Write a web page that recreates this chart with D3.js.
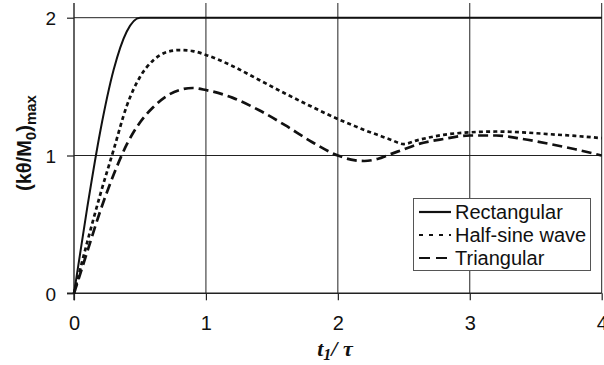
<!DOCTYPE html>
<html>
<head>
<meta charset="utf-8">
<script src="https://cdn.jsdelivr.net/npm/d3@7"></script>
<style>
  html, body { margin: 0; padding: 0; background: #fff; }
  svg { display: block; }
  text { font-family: Arial, "Liberation Sans", sans-serif; fill: #111; }
</style>
</head>
<body>
<svg id="chart" width="604" height="365"></svg>
<script>
// Dimensionless pulse duration t1/tau
const ratio = [0, 0.1, 0.2, 0.3, 0.4, 0.5, 0.6, 0.7, 0.8, 0.9, 1.0, 1.2, 1.4, 1.6, 1.8, 2.0,
               2.1, 2.2, 2.3, 2.4, 2.5, 2.6, 2.8, 3.0, 3.2, 3.4, 3.6, 3.8, 4.0];

// Peak response (k·theta/M0)max for each pulse shape
const rectangular = [0, 0.62, 1.18, 1.62, 1.90, 2.0, 2.0, 2.0, 2.0, 2.0, 2.0, 2.0, 2.0, 2.0, 2.0, 2.0,
                     2.0, 2.0, 2.0, 2.0, 2.0, 2.0, 2.0, 2.0, 2.0, 2.0, 2.0, 2.0, 2.0];
const halfSine    = [0, 0.37, 0.72, 1.04, 1.36, 1.57, 1.69, 1.75, 1.765, 1.758, 1.73, 1.65, 1.55, 1.45, 1.355, 1.265,
                     1.225, 1.185, 1.15, 1.115, 1.083, 1.11, 1.15, 1.168, 1.174, 1.168, 1.155, 1.142, 1.126];
const triangular  = [0, 0.30, 0.60, 0.86, 1.08, 1.24, 1.35, 1.43, 1.475, 1.49, 1.475, 1.42, 1.33, 1.22, 1.10, 1.0,
                     0.97, 0.96, 0.975, 1.01, 1.045, 1.08, 1.12, 1.145, 1.145, 1.12, 1.085, 1.045, 1.0];

const xTicks = [0, 1, 2, 3, 4];
const yTicks = [0, 1, 2];

const seriesNames = ["Rectangular", "Half-sine wave", "Triangular"];
const seriesDash = ["none", "4,3.2", "10,5"];
const seriesWidth = [2, 2.7, 2.7];
const seriesData = [rectangular, halfSine, triangular];

const svg = d3.select("#chart");
const plotTop = 3;

const x = d3.scaleLinear().domain([0, 4]).range([74, 601.7]);
const y = d3.scaleLinear().domain([0, 2]).range([293.3, 17.7]);

// grid lines
const grid = svg.append("g").attr("stroke", "#222").attr("stroke-width", 1);
grid.selectAll("line.v").data(xTicks.slice(1)).join("line")
  .attr("x1", d => x(d)).attr("x2", d => x(d))
  .attr("y1", plotTop).attr("y2", y(0));
grid.selectAll("line.h").data(yTicks.slice(1)).join("line")
  .attr("x1", x(0)).attr("x2", x(4))
  .attr("y1", d => y(d)).attr("y2", d => y(d));

// axes
const xAxis = d3.axisBottom(x).tickValues(xTicks).tickSize(7).tickPadding(16).tickFormat(d3.format("d"));
const yAxis = d3.axisLeft(y).tickValues(yTicks).tickSize(7).tickPadding(11).tickFormat(d3.format("d"));

const gx = svg.append("g").attr("transform", `translate(0,${y(0)})`).call(xAxis);
const gy = svg.append("g").attr("transform", `translate(${x(0)},0)`).call(yAxis);
[gx, gy].forEach(g => {
  g.select(".domain").remove();
  g.selectAll(".tick line").attr("stroke", "#222").attr("stroke-width", 1.2);
  g.selectAll(".tick text").attr("fill", "#111").style("font-family", "Arial, 'Liberation Sans', sans-serif");
});
gx.selectAll(".tick text").style("font-size", "20px");
gy.selectAll(".tick text").style("font-size", "19px").attr("dy", "0.38em");

svg.append("line").attr("stroke", "#222").attr("stroke-width", 1.4)
  .attr("x1", x(0) - 7).attr("x2", x(4)).attr("y1", y(0)).attr("y2", y(0));
svg.append("line").attr("stroke", "#222").attr("stroke-width", 1.4)
  .attr("x1", x(0)).attr("x2", x(0)).attr("y1", plotTop).attr("y2", y(0) + 7);

// response curves
const line = d3.line().x((d, i) => x(ratio[i])).y(d => y(d)).curve(d3.curveMonotoneX);
svg.append("g").selectAll("path").data(seriesData).join("path")
  .attr("d", d => line(d))
  .attr("fill", "none")
  .attr("stroke", "#111")
  .attr("stroke-width", (d, i) => seriesWidth[i])
  .attr("stroke-dasharray", (d, i) => seriesDash[i]);

// legend
const lg = svg.append("g");
lg.append("rect").attr("x", 413.5).attr("y", 198.5).attr("width", 177).attr("height", 72)
  .attr("fill", "#fff").attr("stroke", "#555").attr("stroke-width", 1);
const legendDash = ["none", "4,6", "11,6"];
seriesNames.forEach((name, i) => {
  const cy = 212 + i * 23;
  lg.append("line").attr("x1", 419).attr("x2", 451).attr("y1", cy).attr("y2", cy)
    .attr("stroke", "#111").attr("stroke-width", 2.2).attr("stroke-dasharray", legendDash[i]);
  lg.append("text").attr("x", 455).attr("y", cy + 7).style("font-size", "20px").text(name);
});

// axis titles
const yt = svg.append("text")
  .attr("transform", `translate(31,${143}) rotate(-90)`)
  .attr("text-anchor", "middle")
  .style("font-size", "20px").style("font-weight", "bold");
yt.append("tspan").text("(kθ/M");
yt.append("tspan").attr("dy", 5).style("font-size", "15px").text("0");
yt.append("tspan").attr("dy", -5).text(")");
yt.append("tspan").attr("dy", 5).style("font-size", "15px").text("max");

const xt = svg.append("text")
  .attr("x", 335).attr("y", 356)
  .attr("text-anchor", "middle")
  .style("font-family", "'Liberation Serif', 'Times New Roman', serif")
  .style("font-size", "22px").style("font-weight", "bold").style("font-style", "italic");
xt.append("tspan").text("t");
xt.append("tspan").attr("dy", 4).style("font-size", "16px").text("1");
xt.append("tspan").attr("dy", -4).text("/ τ");
</script>
</body>
</html>
